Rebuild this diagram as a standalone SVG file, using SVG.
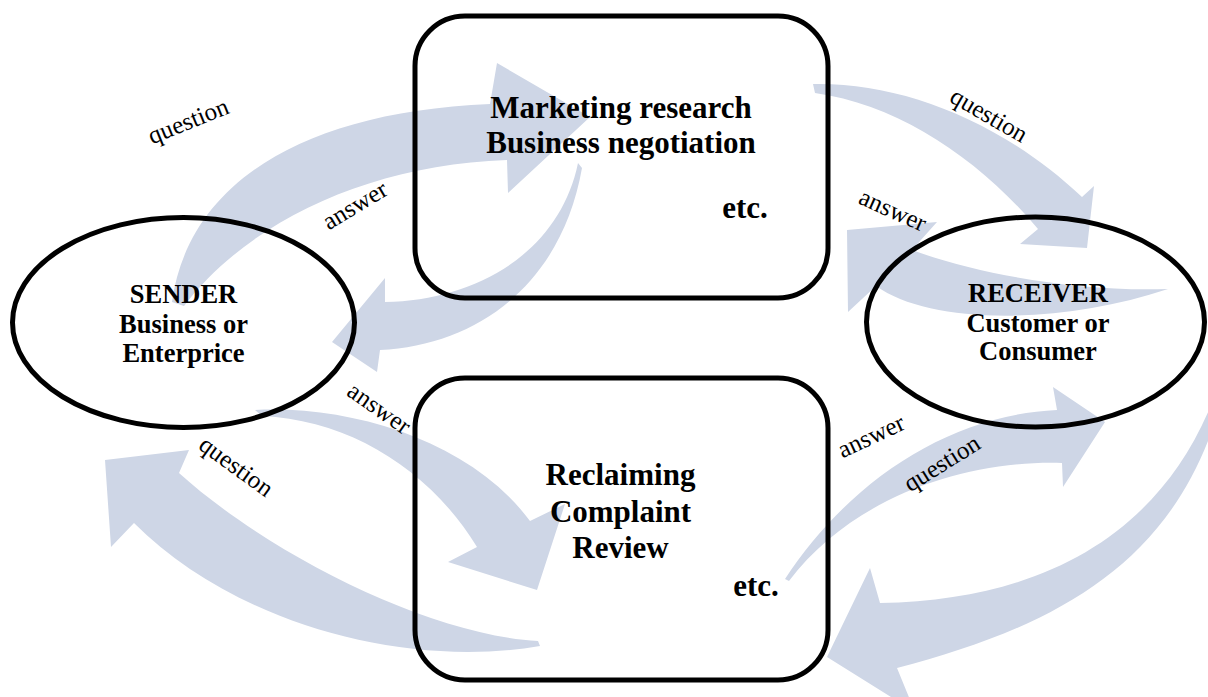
<svg xmlns="http://www.w3.org/2000/svg" width="1208" height="697" viewBox="0 0 1208 697">
  <style>
    .flow { fill: #CED6E6; stroke: none; }
    .node { fill: none; stroke: #000; stroke-width: 5; }
    .title { font-family: "Liberation Serif", "Times New Roman", serif; font-weight: bold; fill: #000; text-anchor: middle; }
    .big { font-size: 31px; }
    .mid { font-size: 26.5px; }
    .lbl { font-family: "Liberation Serif", "Times New Roman", serif; font-size: 25px; fill: #000; text-anchor: middle; }
  </style>
  <rect width="1208" height="697" fill="#fff"/>

  <!-- curved flow arrows -->
  <g id="connectors">
    <!-- sender to top activity (question) -->
    <path class="flow" d="M172,302 C188,185 300,112 490,104 L497,63 L590,117 L508,193 L507,160 C370,165 250,220 184,306 Z"/>
    <!-- top activity back to sender (answer) -->
    <path class="flow" d="M578,163 C560,250 480,300 385,302 L385,278 L332,342 L377,372 L380,350 C480,345 562,282 582,168 Z"/>
    <!-- top activity to receiver (question) -->
    <path class="flow" d="M813,84 C900,82 1000,120 1082,197 L1094,186 L1087,248 L1020,244 L1038,229 C980,160 900,105 815,93 Z"/>
    <!-- receiver back to top activity (answer) -->
    <path class="flow" d="M1168,289 C1080,292 980,275 912,250 L937,222 L847,230 L848,312 L876,286 C930,325 1060,325 1168,289 Z"/>
    <!-- sender to bottom activity (answer) -->
    <path class="flow" d="M255,410 C350,405 470,440 530,521 L565,504 L537,590 L448,562 L477,547 C430,470 350,420 262,416 Z"/>
    <!-- bottom activity back to sender (question) -->
    <path class="flow" d="M538,641 C430,635 270,555 179,473 L189,450 L105,460 L111,547 L134,523 C230,620 400,670 540,646 Z"/>
    <!-- bottom activity to receiver (question) -->
    <path class="flow" d="M785,579 C850,480 950,415 1057,410 L1053,387 L1105,422 L1063,487 L1062,463 C960,460 850,500 789,581 Z"/>
    <!-- receiver back to bottom activity -->
    <path class="flow" d="M1225,365 C1180,520 1060,600 880,603 L870,568 L827,657 L915,712 L897,668 C1060,625 1190,560 1228,372 Z"/>
  </g>

  <g id="sender">
    <ellipse class="node" cx="183.5" cy="322.5" rx="171" ry="105"/>
    <text class="title mid" x="183.5" y="303">SENDER</text>
    <text class="title mid" x="183.5" y="333">Business or</text>
    <text class="title mid" x="183.5" y="362">Enterprice</text>
  </g>

  <g id="receiver">
    <ellipse class="node" cx="1035.5" cy="322" rx="169" ry="105"/>
    <text class="title mid" x="1038" y="302">RECEIVER</text>
    <text class="title mid" x="1038" y="332">Customer or</text>
    <text class="title mid" x="1038" y="360">Consumer</text>
  </g>

  <g id="market">
    <rect class="node" x="415" y="16" width="413" height="282" rx="50" ry="50"/>
    <text class="title big" x="621" y="118">Marketing research</text>
    <text class="title big" x="621" y="153">Business negotiation</text>
    <text class="title big" x="745" y="218">etc.</text>
  </g>

  <g id="complaint">
    <rect class="node" x="415" y="378" width="413" height="302" rx="50" ry="50"/>
    <text class="title big" x="620.5" y="485">Reclaiming</text>
    <text class="title big" x="620.5" y="522">Complaint</text>
    <text class="title big" x="620.5" y="558">Review</text>
    <text class="title big" x="756" y="596">etc.</text>
  </g>

  <!-- flow labels -->
  <g id="labels">
    <text class="lbl" transform="translate(189,123) rotate(-22)" y="6">question</text>
    <text class="lbl" transform="translate(356,207) rotate(-31)" y="6">answer</text>
    <text class="lbl" transform="translate(988,117) rotate(30)" y="6">question</text>
    <text class="lbl" transform="translate(892,212) rotate(24)" y="6">answer</text>
    <text class="lbl" transform="translate(378,410) rotate(35)" y="6">answer</text>
    <text class="lbl" transform="translate(235,468) rotate(36)" y="6">question</text>
    <text class="lbl" transform="translate(872,438) rotate(-25)" y="6">answer</text>
    <text class="lbl" transform="translate(943,465) rotate(-32)" y="6">question</text>
  </g>
</svg>
